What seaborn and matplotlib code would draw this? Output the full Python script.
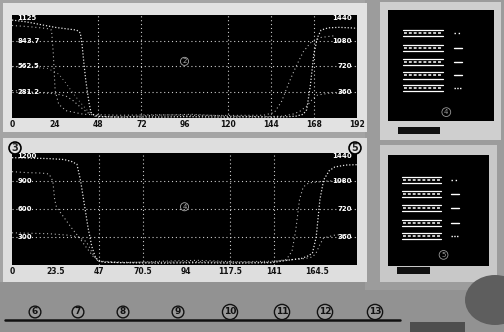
import numpy as np
import pandas as pd
import seaborn as sns
import matplotlib
matplotlib.use("Agg")
import matplotlib.pyplot as plt
from matplotlib.patches import Rectangle, Ellipse

# ---------------- data ----------------
top_x_ticks = [0, 24, 48, 72, 96, 120, 144, 168, 192]
top_x_labels = ["0", "24", "48", "72", "96", "120", "144", "168", "192"]
top_vgrid = [48, 72, 120, 144, 168]
top_hgrid = [281.25, 562.5, 843.75]
top_left_vals = [1125, 843.75, 562.5, 281.25]
top_left_labels = ["1125", "843.7", "562.5", "281.2"]
top_right_labels = ["1440", "1080", "720", "360"]

t1_x = [0, 8, 16, 24, 30, 36, 38, 39, 40, 41, 42, 43, 44, 46, 50, 60, 72, 84, 96, 108, 120,
        132, 144, 152, 158, 162, 164, 166, 168, 170, 172, 176, 182, 188, 192]
t1_y = [1070, 1050, 1020, 990, 975, 960, 930, 800, 600, 420, 280, 150, 60, 25, 15, 10, 12, 10,
        15, 12, 10, 12, 10, 12, 20, 40, 90, 350, 700, 880, 960, 985, 990, 985, 980]
t2_x = [0, 8, 16, 20, 22, 23, 24, 26, 30, 40, 60, 80, 100, 120, 140, 146, 150, 154, 158, 162,
        166, 172, 180]
t2_y = [1010, 1000, 985, 975, 960, 700, 300, 150, 80, 40, 30, 35, 30, 28, 30, 60, 180, 380,
        560, 720, 820, 880, 900]
t3_x = [0, 8, 16, 24, 30, 34, 38, 42, 46, 50, 60, 80, 100, 120, 140, 150, 156, 160, 164, 167,
        170, 176, 186]
t3_y = [300, 290, 275, 265, 240, 190, 120, 60, 20, 12, 10, 30, 40, 20, 15, 20, 40, 70, 130, 200,
        250, 270, 275]
t4_x = [0, 10, 20, 26, 30, 34, 38, 42, 46, 52, 60]
t4_y = [560, 555, 540, 480, 380, 270, 170, 80, 30, 15, 10]

bot_x_ticks = [0, 23.5, 47, 70.5, 94, 117.5, 141, 164.5]
bot_x_labels = ["0", "23.5", "47", "70.5", "94", "117.5", "141", "164.5"]
bot_vgrid = [47, 70.5, 117.5, 141]
bot_hgrid = [300, 600, 900]
bot_left_vals = [1200, 900, 600, 300]
bot_left_labels = ["1200", "900", "600", "300"]
bot_right_labels = ["1440", "1080", "720", "360"]

b1_x = [0, 10, 20, 28, 32, 35, 37, 39, 41, 43, 45, 47, 50, 60, 80, 100, 120, 140, 150, 156,
        160, 162, 164, 166, 168, 171, 174, 180, 186]
b1_y = [1150, 1145, 1140, 1130, 1110, 1080, 900, 650, 400, 200, 80, 40, 30, 25, 20, 25, 20, 25,
        55, 70, 100, 130, 300, 700, 911, 1010, 1050, 1071, 1075]
b2_x = [0, 8, 16, 20, 22, 23, 24, 28, 32, 36, 40, 44, 48, 60, 80, 100, 120, 140, 148, 151, 153,
        155, 157, 160, 170, 180]
b2_y = [1000, 990, 985, 975, 900, 700, 620, 510, 400, 300, 190, 86, 40, 30, 30, 35, 30, 30, 60,
        150, 375, 700, 836, 880, 900, 905]
b3_x = [0, 10, 20, 30, 36, 40, 42, 44, 46, 50, 60, 80, 100, 120, 140, 150, 158, 162, 164, 166,
        168, 174, 184]
b3_y = [345, 340, 335, 320, 300, 250, 180, 100, 50, 30, 25, 40, 50, 35, 40, 55, 70, 86, 130, 220,
        290, 320, 330]

bottom_numbers = ["6", "7", "8", "9", "10", "11", "12", "13"]
bottom_number_px = [35, 78, 123, 178, 230, 282, 325, 375]

# ---------------- figure ----------------
sns.set_style("dark")
plt.rcParams["font.family"] = ["DejaVu Sans"]

W, H = 504, 332
fig = plt.figure(figsize=(W / 100, H / 100), dpi=100, facecolor="#a4a4a4")


def fr(px0, py0, px1, py1):
    return [px0 / W, 1 - py1 / H, (px1 - px0) / W, (py1 - py0) / H]


def bg(px0, py0, px1, py1, color, z=-5):
    x, y, w, h = fr(px0, py0, px1, py1)
    fig.add_artist(Rectangle((x, y), w, h, transform=fig.transFigure,
                             facecolor=color, edgecolor="none", zorder=z))


# background regions
bg(0, 282, 504, 332, "#929292")
bg(365, 0, 504, 290, "#9c9c9c")
bg(3, 3, 367, 132, "#e2e2e2", -4)
bg(3, 138, 367, 282, "#dedede", -4)
bg(380, 2, 501, 140, "#cfcfcf", -4)
bg(380, 145, 497, 282, "#c8c8c8", -4)
fig.add_artist(Ellipse((495 / W, 1 - 300 / H), 60 / W, 50 / H, transform=fig.transFigure,
                       facecolor="#5e5e5e", edgecolor="none", zorder=-3))
bg(410, 322, 465, 332, "#4e4e4e", -3)


def chart(rect, xlim, ylim, series, vgrid, hgrid, xticks, xlabels,
          lvals, llabels, rlabels):
    ax = fig.add_axes(rect)
    ax.set_facecolor("black")
    for s in ax.spines.values():
        s.set_visible(False)
    ax.set_xlim(*xlim)
    ax.set_ylim(*ylim)
    for v in vgrid:
        ax.axvline(v, color="white", ls=(0, (1, 2.5)), lw=0.8, alpha=0.8)
    for h in hgrid:
        ax.axhline(h, color="white", ls=(0, (1, 2.5)), lw=0.8, alpha=0.8)
    for (xs, ys, lw, ls, a) in series:
        sns.lineplot(x=xs, y=ys, ax=ax, color="white", lw=lw, linestyle=ls,
                     alpha=a, estimator=None, sort=False)
    ax.set_xticks(xticks)
    ax.set_xticklabels(xlabels, fontsize=5.5, fontweight="bold", color="#111111")
    ax.set_yticks([])
    ax.tick_params(axis="x", length=0, pad=1.5)
    ax.set_xlabel("")
    ax.set_ylabel("")
    tr = ax.get_yaxis_transform()
    for i, (v, l, r) in enumerate(zip(lvals, llabels, rlabels)):
        va = "top" if i == 0 else "center"
        ax.text(0.015, v, l, transform=tr, color="white", fontsize=5,
                fontweight="bold", ha="left", va=va)
        ax.text(0.985, v, r, transform=tr, color="white", fontsize=5,
                fontweight="bold", ha="right", va=va)
    return ax


ax1 = chart(fr(12, 15, 357, 118), (0, 192), (0, 1125),
            [(t1_x, t1_y, 0.9, (0, (1, 1.5)), 0.9),
             (t2_x, t2_y, 0.8, (0, (1, 2.5)), 0.7),
             (t3_x, t3_y, 0.8, (0, (1, 2.5)), 0.7),
             (t4_x, t4_y, 0.7, (0, (1, 3)), 0.6)],
            top_vgrid, top_hgrid, top_x_ticks, top_x_labels,
            top_left_vals, top_left_labels, top_right_labels)

ax2 = chart(fr(12, 153, 357, 265), (0, 186), (0, 1200),
            [(b1_x, b1_y, 0.9, (0, (1, 1.5)), 0.9),
             (b2_x, b2_y, 0.8, (0, (1, 2.5)), 0.7),
             (b3_x, b3_y, 0.8, (0, (1, 2.5)), 0.7)],
            bot_vgrid, bot_hgrid, bot_x_ticks, bot_x_labels,
            bot_left_vals, bot_left_labels, bot_right_labels)

# circled reference numerals on the charts
ax1.text(0.5, 0.55, "2", transform=ax1.transAxes, color="#aaaaaa", fontsize=5,
         ha="center", va="center",
         bbox=dict(boxstyle="circle,pad=0.15", fc="none", ec="#aaaaaa", lw=0.6))
ax2.text(0.5, 0.52, "4", transform=ax2.transAxes, color="#aaaaaa", fontsize=5,
         ha="center", va="center",
         bbox=dict(boxstyle="circle,pad=0.15", fc="none", ec="#aaaaaa", lw=0.6))
fig.text(15 / W, 1 - 148 / H, "3", fontsize=7, fontweight="bold", ha="center", va="center",
         bbox=dict(boxstyle="circle,pad=0.1", fc="#e0e0e0", ec="black", lw=1.2))
fig.text(355 / W, 1 - 148 / H, "5", fontsize=7, fontweight="bold", ha="center", va="center",
         bbox=dict(boxstyle="circle,pad=0.1", fc="#e0e0e0", ec="black", lw=1.2))


# legend panels
def legend_panel(rect, rows, marks, num, num_y):
    ax = fig.add_axes(rect)
    ax.set_facecolor("black")
    for s in ax.spines.values():
        s.set_visible(False)
    ax.set_xlim(0, 1)
    ax.set_ylim(0, 1)
    ax.set_xticks([])
    ax.set_yticks([])
    for y, ls in zip(rows, marks):
        ax.plot([0.14, 0.52], [y + 0.028, y + 0.028], color="white", lw=0.9)
        ax.plot([0.14, 0.52], [y - 0.028, y - 0.028], color="white", lw=0.9)
        ax.plot([0.15, 0.51], [y, y], color="#cccccc", lw=1.4, ls=(0, (1.5, 1)))
        ax.plot([0.62, 0.70], [y, y], color="white", lw=1.0, ls=ls)
    ax.text(0.55, num_y, num, transform=ax.transAxes, color="#999999", fontsize=5,
            ha="center", va="center",
            bbox=dict(boxstyle="circle,pad=0.2", fc="none", ec="#999999", lw=0.6))
    return ax


legend_panel(fr(388, 10, 494, 121), [0.79, 0.66, 0.53, 0.41, 0.30],
             [(0, (1, 2)), "-", "-", "-", (0, (1, 1))], "4", 0.08)
legend_panel(fr(388, 155, 489, 266), [0.775, 0.65, 0.52, 0.39, 0.27],
             [(0, (1, 2)), "-", "-", "-", (0, (1, 1))], "5", 0.1)
bg(398, 127, 440, 134, "#111111", -2)
bg(397, 267, 430, 274, "#111111", -2)

# bottom row of numbered markers
fig.add_artist(plt.Line2D([5 / W, 400 / W], [1 - 320 / H, 1 - 320 / H],
                          transform=fig.transFigure, color="#111111", lw=1.8))
for n, px in zip(bottom_numbers, bottom_number_px):
    fig.text(px / W, 1 - 312 / H, n, fontsize=6.5, fontweight="bold", ha="center",
             va="center", color="#111111",
             bbox=dict(boxstyle="circle,pad=0.15", fc="#9a9a9a", ec="#111111", lw=1.0))

fig.savefig("out.png", dpi=100, facecolor=fig.get_facecolor())
